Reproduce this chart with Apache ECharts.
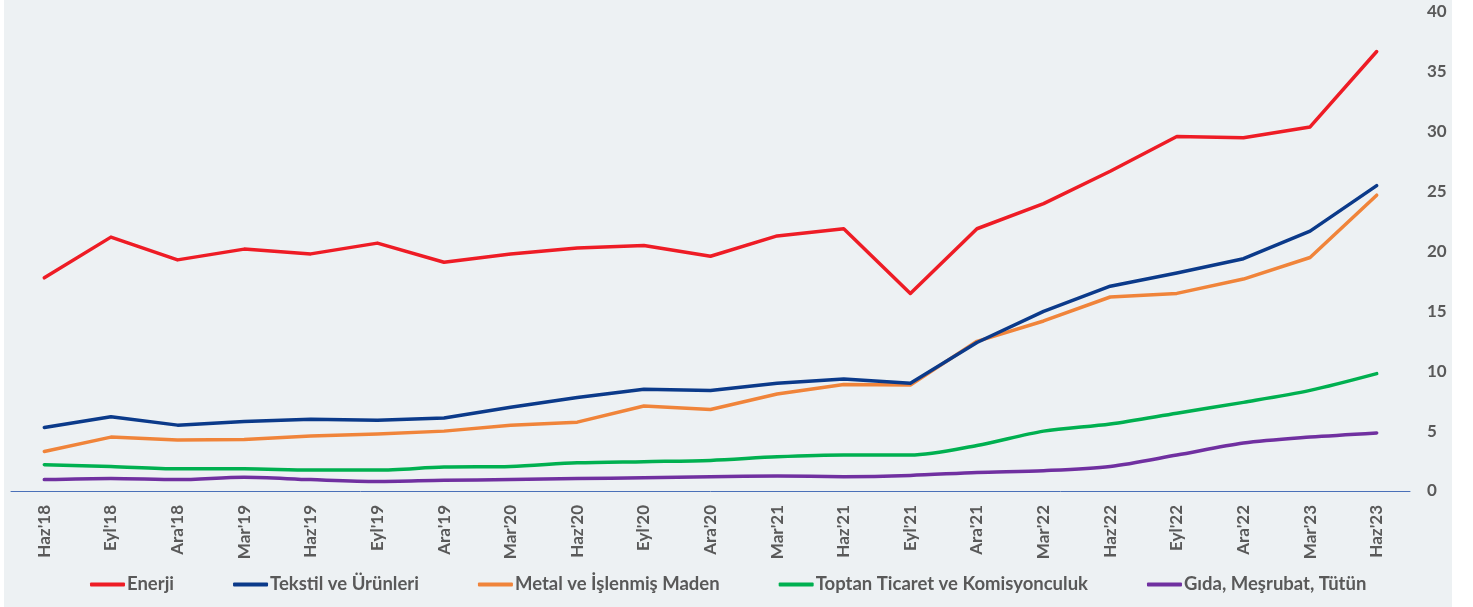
<!DOCTYPE html>
<html>
<head>
<meta charset="utf-8">
<script src="https://cdn.jsdelivr.net/npm/echarts@6/dist/echarts.min.js"></script>
<style>
html,body{margin:0;padding:0;background:#fff;}
#chart{width:1473px;height:607px;background:linear-gradient(to right,#fff 0,#fff 4px,#EDF1F3 4px,#EDF1F3 1452px,#fff 1452px);}
</style>
</head>
<body>
<div id="chart"></div>
<script>
const categories = ["Haz'18","Eyl'18","Ara'18","Mar'19","Haz'19","Eyl'19","Ara'19","Mar'20","Haz'20","Eyl'20","Ara'20","Mar'21","Haz'21","Eyl'21","Ara'21","Mar'22","Haz'22","Eyl'22","Ara'22","Mar'23","Haz'23"];
const enerji = [17.8,21.2,19.3,20.2,19.8,20.7,19.1,19.8,20.3,20.5,19.6,21.3,21.9,16.5,21.9,24.0,26.7,29.6,29.5,30.4,36.7];
const tekstil = [5.3,6.2,5.5,5.8,6.0,5.9,6.1,7.0,7.8,8.5,8.4,9.0,9.35,9.0,12.4,15.0,17.1,18.2,19.4,21.7,25.5];
const metal = [3.3,4.5,4.25,4.3,4.6,4.75,5.0,5.5,5.75,7.1,6.8,8.1,8.9,8.85,12.5,14.2,16.2,16.5,17.7,19.5,24.7];
const toptan = [2.2,2.05,1.85,1.85,1.75,1.75,2.0,2.05,2.35,2.45,2.55,2.85,3.0,3.0,3.8,5.0,5.6,6.5,7.4,8.4,9.8];
const gida = [0.95,1.05,0.95,1.15,0.95,0.8,0.9,0.95,1.05,1.1,1.2,1.25,1.2,1.3,1.55,1.7,2.05,3.0,4.0,4.5,4.85];
const seriesNames = ["Enerji","Tekstil ve Ürünleri","Metal ve İşlenmiş Maden","Toptan Ticaret ve Komisyonculuk","Gıda, Meşrubat, Tütün"];
const colors = ["#EE1C25","#0B3A8A","#F0843A","#00B050","#7030A0"];

const chart = echarts.init(document.getElementById('chart'));
const dataSets = [enerji, tekstil, metal, toptan, gida];
const smoothFlags = [false,false,false,0.3,0.3];
chart.setOption({
  backgroundColor: 'transparent',
  animation: false,
  textStyle: {fontFamily: "Lato, 'Open Sans', sans-serif"},
  grid: {left: 11, right: 63, top: 12, bottom: 116},
  legend: {
    left: 85, top: 570,
    itemGap: 59, itemWidth: 35, itemHeight: 4,
    icon: 'roundRect',
    textStyle: {color: '#595959', fontSize: 18.5, fontWeight: 'bold', padding: [0,0,0,-3]},
    data: seriesNames
  },
  xAxis: {
    type: 'category',
    data: categories,
    boundaryGap: true,
    axisLine: {lineStyle: {color: '#4A70B8', width: 1}},
    axisTick: {show: false},
    axisLabel: {rotate: 90, color: '#595959', fontSize: 17, fontWeight: 'bold', margin: 14, interval: 0}
  },
  yAxis: {
    type: 'value',
    position: 'right',
    min: 0, max: 40, interval: 5,
    splitLine: {show: false},
    axisLine: {show: false},
    axisTick: {show: false},
    axisLabel: {color: '#595959', fontSize: 17, fontWeight: 'bold', margin: 17}
  },
  series: seriesNames.map((n,i)=>({
    name: n,
    type: 'line',
    data: dataSets[i],
    smooth: smoothFlags[i],
    symbol: 'none',
    lineStyle: {color: colors[i], width: 3.5, cap: 'round', join: 'round'},
    itemStyle: {color: colors[i]},
    z: 10 - i
  }))
});
</script>
</body>
</html>
